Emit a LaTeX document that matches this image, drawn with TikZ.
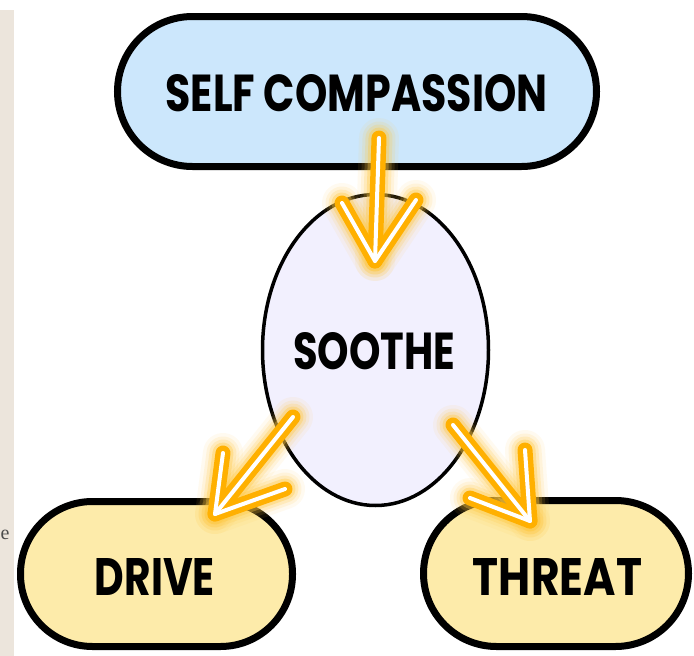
\documentclass[tikz,border=0pt]{standalone}
\usepackage{fontspec}
\setmainfont{Poppins}
\newfontfamily\serifish{Liberation Serif}
\usetikzlibrary{shapes.geometric}
\definecolor{pillblue}{HTML}{CCE7FC}
\definecolor{ovalfill}{HTML}{F2F0FE}
\definecolor{pillyellow}{HTML}{FDEBAA}
\definecolor{glowor}{HTML}{FFB000}
\definecolor{glowsoft}{HTML}{FFC840}
\definecolor{sidebar}{HTML}{ECE5DC}
\tikzset{
  pill/.style={draw=black, line width=7pt, inner sep=0pt, rounded corners=#1},
  label/.style={inner sep=0pt, font=\bfseries},
  glowpath/.style={line cap=round, line join=round},
}
\newcommand{\glowarrow}[4]{%
  \foreach \w/\o in {40/0.08, 33/0.12, 27/0.2, 21/0.35} {
    \draw[glowpath, glowsoft, opacity=\o, line width=\w pt] (#1) -- (#2);
    \draw[glowpath, glowsoft, opacity=\o, line width=\w pt] (#3) -- (#2) -- (#4);
  }
  \draw[glowpath, glowor, line width=15pt] (#1) -- (#2);
  \draw[glowpath, glowor, line width=15pt] (#3) -- (#2) -- (#4);
  \draw[glowpath, white, line width=4pt] (#1) -- (#2);
  \draw[glowpath, white, line width=4pt] (#3) -- (#2) -- (#4);
}
\begin{document}
\begin{tikzpicture}[x=1pt, y=-1pt]
\useasboundingbox (0,0) rectangle (694,656);
\fill[white] (0,0) rectangle (694,656);
\fill[sidebar] (0,10) rectangle (14,656);
\node[anchor=base west, text=black!70, font=\serifish\fontsize{20}{20}\selectfont, inner sep=0pt] (frag) at (0.5,539) {e};

\node[pill=75pt, fill=pillblue, minimum width=479pt, minimum height=150pt] (self) at (357,91.5) {};
\node[label] (selft) at (356.5,93.5) {\resizebox{382pt}{37pt}{SELF COMPASSION}};

\node[ellipse, draw=black, line width=3.5pt, fill=ovalfill, inner sep=0pt, minimum width=226pt, minimum height=311pt] (soothe) at (375.5,350) {};
\node[label] (soothet) at (374,351) {\resizebox{162pt}{37pt}{SOOTHE}};

\node[pill=72pt, fill=pillyellow, minimum width=272pt, minimum height=145pt] (drive) at (156.5,574) {};
\node[label] (drivet) at (155,577) {\resizebox{120pt}{37pt}{DRIVE}};

\node[pill=73pt, fill=pillyellow, minimum width=265pt, minimum height=146pt] (threat) at (556,573.5) {};
\node[label] (threatt) at (557.5,577) {\resizebox{169pt}{37pt}{THREAT}};

\coordinate (a1s) at (379,138);
\coordinate (a1t) at (375,261);
\coordinate (a1l) at (342,203);
\coordinate (a1r) at (416,200);
\glowarrow{a1s}{a1t}{a1l}{a1r}

\coordinate (a2s) at (293,417);
\coordinate (a2t) at (215,514);
\coordinate (a2l) at (223,453);
\coordinate (a2r) at (285,489);
\glowarrow{a2s}{a2t}{a2l}{a2r}

\coordinate (a3s) at (453,425);
\coordinate (a3t) at (530,521);
\coordinate (a3l) at (525,450);
\coordinate (a3r) at (470,498);
\glowarrow{a3s}{a3t}{a3l}{a3r}
\end{tikzpicture}
\end{document}
